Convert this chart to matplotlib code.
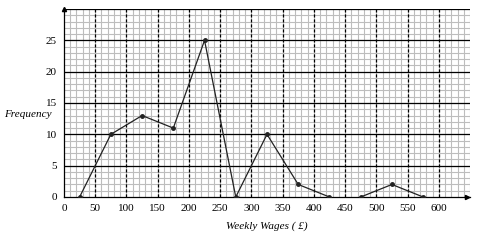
import numpy as np
import matplotlib.pyplot as plt

# frequency polygon data (midpoints of wage classes)
mid_a = [25, 75, 125, 175, 225, 275, 325, 375, 425]
freq_a = [0, 10, 13, 11, 25, 0, 10, 2, 0]
mid_b = [475, 525, 575]
freq_b = [0, 2, 0]
x_ticks = list(range(0, 601, 50))
y_ticks = [0, 5, 10, 15, 20, 25]

plt.rcParams['font.family'] = ['Liberation Serif', 'DejaVu Serif']

fig = plt.figure(figsize=(4.84, 2.4), dpi=100)
ax = fig.add_axes([64 / 484, 1 - 197 / 240, (470 - 64) / 484, (197 - 9) / 240])
ax.set_xlim(0, 650)
ax.set_ylim(0, 30)

# graph paper: grey grid every 10 / 1, dashed verticals every 50, solid horizontals every 5
for x in np.arange(10, 651, 10):
    ax.axvline(x, color='#bdbdbd', lw=0.8, zorder=0)
for y in np.arange(1, 30, 1):
    ax.axhline(y, color='#bdbdbd', lw=0.8, zorder=0)
for x in range(50, 650, 50):
    ax.axvline(x, color='black', lw=0.9, ls=(0, (2.5, 1.5)), zorder=1)
for y in range(5, 31, 5):
    ax.axhline(y, color='black', lw=0.9, zorder=1)

ax.plot(mid_a, freq_a, color='#222222', lw=0.9, marker='o', ms=2.5, zorder=3)
ax.plot(mid_b, freq_b, color='#222222', lw=0.9, marker='o', ms=2.5, zorder=3)

for s in ['top', 'right']:
    ax.spines[s].set_visible(False)
ax.spines['left'].set_linewidth(0.9)
ax.spines['bottom'].set_linewidth(0.9)
ax.plot(0, 30, marker='^', color='black', ms=3, clip_on=False, zorder=4)
ax.plot(645, 0, marker='>', color='black', ms=3, clip_on=False, zorder=4)

ax.set_xticks(x_ticks)
ax.set_yticks(y_ticks)
ax.tick_params(length=0, labelsize=8, pad=5)

ax.text(-0.03, 13.2, 'Frequency', style='italic', fontsize=8,
        ha='right', va='center', transform=ax.get_yaxis_transform())
ax.set_xlabel('Weekly Wages ( £)', style='italic', fontsize=8, labelpad=6)

fig.savefig('out.png', dpi=100)
